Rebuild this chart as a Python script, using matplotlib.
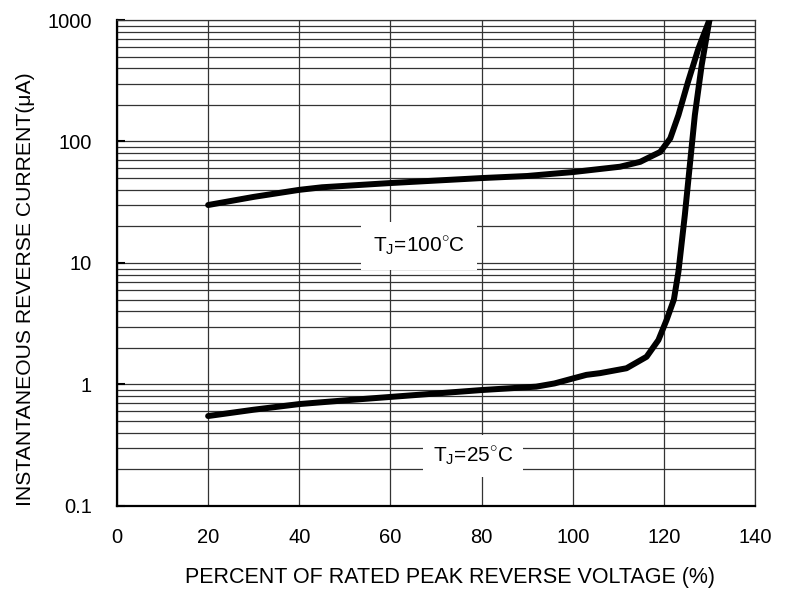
import numpy as np
import matplotlib
matplotlib.use('Agg')
import matplotlib.pyplot as plt

plt.rcParams['font.family'] = ['Liberation Sans', 'DejaVu Sans']
plt.rcParams['mathtext.fontset'] = 'custom'
plt.rcParams['mathtext.rm'] = 'Liberation Sans'

# percent of rated peak reverse voltage vs reverse current (uA)
x_100 = [20, 30, 40, 45, 60, 80, 90, 95, 100, 106, 110.4, 114.8, 117.7, 119.2,
         121.4, 123.2, 125.3, 127.6, 129, 130]
i_100 = [30, 35, 40, 42, 45.5, 50, 52, 54, 56, 59.4, 62, 68, 77, 82,
         106, 165, 310, 585, 800, 1000]

x_25 = [20, 30, 40, 51, 60, 80, 92, 96, 100, 103, 106, 111.8, 116.2, 118.8,
        120.6, 122.2, 123.2, 124.6, 125.7, 126.8, 128.3, 130]
i_25 = [0.55, 0.62, 0.69, 0.745, 0.79, 0.9, 0.96, 1.02, 1.12, 1.2, 1.24, 1.36,
        1.69, 2.32, 3.4, 5.0, 8.5, 24.8, 64, 165, 426, 1000]

x_ticks = [0, 20, 40, 60, 80, 100, 120, 140]
y_ticks = [0.1, 1, 10, 100, 1000]
y_labels = ['0.1', '1', '10', '100', '1000']

fig = plt.figure(figsize=(7.92, 5.90), dpi=100)
ax = fig.add_axes([0.1477, 0.1424, 0.8056, 0.8237])

ax.set_yscale('log')
ax.set_xlim(0, 140)
ax.set_ylim(0.1, 1000)

ax.plot(x_100, i_100, color='black', lw=4.3, solid_capstyle='round',
        solid_joinstyle='round', zorder=4)
ax.plot(x_25, i_25, color='black', lw=4.3, solid_capstyle='round',
        solid_joinstyle='round', zorder=4)

# grid: vertical at majors, horizontal at every decade subdivision
ax.set_xticks(x_ticks)
ax.set_yticks(y_ticks)
ax.set_yticklabels(y_labels)
ax.yaxis.set_minor_locator(matplotlib.ticker.LogLocator(base=10, subs=np.arange(2, 10)))
ax.yaxis.set_minor_formatter(matplotlib.ticker.NullFormatter())
ax.grid(True, which='major', axis='x', color='#333333', lw=0.9)
ax.grid(True, which='both', axis='y', color='#333333', lw=0.9)
ax.set_axisbelow(True)

ax.tick_params(axis='x', length=0, pad=16, labelsize=14.5)
ax.tick_params(axis='y', which='major', direction='in', length=6, width=1.5,
               pad=18, labelsize=14.5, colors='black')
ax.tick_params(axis='y', which='minor', length=0)

for s in ['left', 'bottom']:
    ax.spines[s].set_linewidth(1.6)
for s in ['top', 'right']:
    ax.spines[s].set_linewidth(0.9)
    ax.spines[s].set_color('#333333')

ax.set_xlabel('PERCENT OF RATED PEAK REVERSE VOLTAGE (%)', fontsize=15.5)
ax.xaxis.set_label_coords(0.522, -0.148)
ax.xaxis.label.set_va('center')
ax.set_ylabel('INSTANTANEOUS REVERSE CURRENT(\u03bcA)', fontsize=15.2)
ax.yaxis.set_label_coords(-0.144, 0.446)
ax.yaxis.label.set_va('center')

ax.text(66.3, 13.8, 'T$_\\mathrm{J}$=100$^{\\circ}$C', fontsize=15, ha='center',
        va='center', bbox=dict(facecolor='white', edgecolor='none', pad=8.5), zorder=3)
ax.text(78.2, 0.258, 'T$_\\mathrm{J}$=25$^{\\circ}$C', fontsize=15, ha='center',
        va='center', bbox=dict(facecolor='white', edgecolor='none', pad=7), zorder=3)

fig.savefig('out.png', dpi=100)
